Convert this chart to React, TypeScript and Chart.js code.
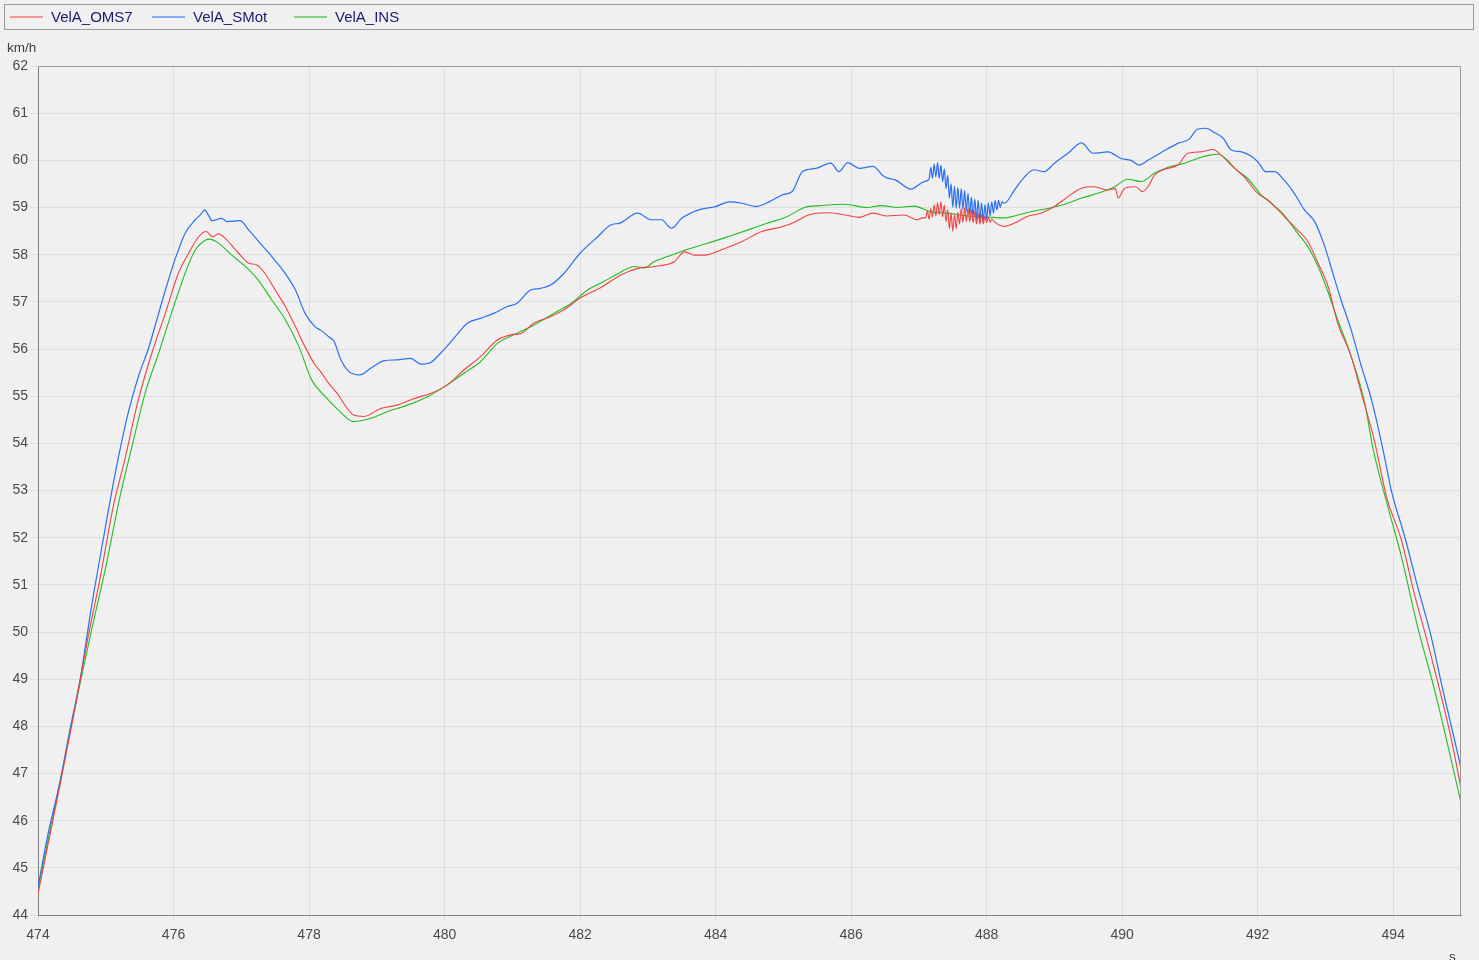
import React, { useEffect, useRef } from "react";
import { Chart, registerables } from "chart.js";

Chart.register(...registerables);

const seriesNames = ["VelA_OMS7", "VelA_SMot", "VelA_INS"];
const seriesColors = ["rgb(240,66,66)", "rgb(42,112,240)", "rgb(34,190,34)"];
const legendColors = ["rgb(244,150,150)", "rgb(130,170,245)", "rgb(130,210,130)"];

const xTicks = [474, 476, 478, 480, 482, 484, 486, 488, 490, 492, 494];
const yTicks = [44, 45, 46, 47, 48, 49, 50, 51, 52, 53, 54, 55, 56, 57, 58, 59, 60, 61, 62];

// VelA_OMS7 (red)
const omsT = [
  474.0, 474.33, 474.55, 474.74, 474.92, 475.11, 475.28, 475.48, 475.68, 475.88,
  476.07, 476.25, 476.37, 476.48, 476.58, 476.66, 476.76, 476.96, 477.11, 477.23,
  477.35, 477.5, 477.65, 477.8, 477.94, 478.09, 478.17, 478.29, 478.43, 478.51,
  478.66, 478.81, 479.06, 479.3, 479.55, 479.8, 480.04, 480.29, 480.53, 480.78,
  480.98, 481.13, 481.32, 481.57, 481.76, 482.0, 482.3, 482.6, 482.85, 483.09,
  483.39, 483.54, 483.69, 483.84, 484.08, 484.39, 484.68, 484.98, 485.18, 485.37,
  485.67, 485.92, 486.12, 486.32, 486.52, 486.78, 486.98, 487.05,
  487.1, 487.125, 487.15, 487.175, 487.2, 487.225, 487.25, 487.275, 487.3, 487.325,
  487.35, 487.375, 487.4, 487.425, 487.45, 487.475, 487.5, 487.525, 487.55, 487.575,
  487.6, 487.625, 487.65, 487.675, 487.7, 487.725, 487.75, 487.775, 487.8, 487.825,
  487.85, 487.875, 487.9, 487.925, 487.95, 487.975, 488.0, 488.025, 488.05, 488.075,
  488.11, 488.26, 488.41, 488.6, 488.8, 489.0, 489.2, 489.4, 489.59, 489.79,
  489.9, 489.94, 490.04, 490.2, 490.3, 490.38, 490.48, 490.62, 490.82, 490.97,
  491.16, 491.34, 491.46, 491.63, 491.8, 492.0, 492.15, 492.3, 492.44, 492.59,
  492.74, 492.89, 493.04, 493.18, 493.38, 493.53, 493.72, 493.9, 494.12, 494.31,
  494.51, 494.71, 494.86, 495.0,
];
const omsV = [
  44.45, 46.79, 48.42, 49.9, 51.17, 52.66, 53.65, 54.92, 55.91, 56.76,
  57.6, 58.1, 58.38, 58.49, 58.38, 58.44, 58.35, 58.03, 57.82, 57.78,
  57.6, 57.25, 56.9, 56.47, 56.05, 55.66, 55.52, 55.27, 55.03, 54.85,
  54.6, 54.57, 54.74, 54.81, 54.95, 55.06, 55.24, 55.56, 55.84, 56.19,
  56.3, 56.33, 56.55, 56.69, 56.83, 57.08, 57.3, 57.57, 57.71, 57.75,
  57.85, 58.06, 57.99, 57.99, 58.1, 58.28, 58.49, 58.59, 58.7, 58.84,
  58.89, 58.84, 58.79, 58.88, 58.82, 58.84, 58.74, 58.78,
  58.78, 58.92, 58.75, 58.98, 58.8, 59.05, 58.82, 59.1, 58.85, 59.12,
  58.8, 59.05, 58.7, 58.95, 58.55, 58.88, 58.5, 58.85, 58.55, 58.9,
  58.65, 58.98, 58.68, 59.0, 58.7, 58.98, 58.7, 58.95, 58.68, 58.92,
  58.65, 58.88, 58.65, 58.85, 58.65, 58.82, 58.68, 58.8, 58.68, 58.76,
  58.7, 58.6, 58.67, 58.81, 58.88, 59.02, 59.23, 59.41, 59.44, 59.37,
  59.4, 59.2, 59.41, 59.44, 59.34, 59.44, 59.69, 59.81, 59.9, 60.15,
  60.18, 60.23, 60.11, 59.87, 59.65, 59.3, 59.16, 58.95, 58.74, 58.52,
  58.28, 57.82, 57.32, 56.55, 55.84, 55.06, 54.07, 52.87, 51.95, 50.82,
  49.76, 48.63, 47.71, 46.69,
];

// VelA_SMot (blue)
const smotT = [
  474.0, 474.15, 474.33, 474.47, 474.62, 474.79, 474.97, 475.14, 475.24, 475.33,
  475.48, 475.63, 475.75, 475.88, 476.02, 476.17, 476.32, 476.4, 476.46, 476.51,
  476.57, 476.71, 476.79, 476.98, 477.11, 477.28, 477.45, 477.65, 477.8, 477.94,
  478.09, 478.17, 478.29, 478.37, 478.47, 478.59, 478.75, 478.91, 479.1, 479.3,
  479.5, 479.65, 479.79, 479.94, 480.14, 480.34, 480.53, 480.73, 480.93, 481.07,
  481.27, 481.4, 481.57, 481.76, 482.0, 482.26, 482.45, 482.59, 482.85, 483.05,
  483.2, 483.35, 483.5, 483.75, 484.0, 484.2, 484.39, 484.59, 484.79, 484.99,
  485.13, 485.28, 485.48, 485.7, 485.82, 485.95, 486.12, 486.32, 486.49, 486.66,
  486.88, 487.08,
  487.15, 487.175, 487.2, 487.225, 487.25, 487.275, 487.3, 487.325, 487.35, 487.375,
  487.4, 487.425, 487.45, 487.475, 487.5, 487.525, 487.55, 487.575, 487.6, 487.625,
  487.65, 487.675, 487.7, 487.725, 487.75, 487.775, 487.8, 487.825, 487.85, 487.875,
  487.9, 487.925, 487.95, 487.975, 488.0, 488.025, 488.05, 488.075, 488.1, 488.125,
  488.15, 488.175, 488.2, 488.225,
  488.26, 488.41, 488.56, 488.7, 488.85, 489.0, 489.2, 489.4, 489.57, 489.79,
  489.98, 490.13, 490.25, 490.38, 490.57, 490.82, 490.99, 491.11, 491.24, 491.36,
  491.49, 491.61, 491.76, 491.9, 492.0, 492.12, 492.25, 492.39, 492.54, 492.69,
  492.84, 492.99, 493.11, 493.23, 493.38, 493.53, 493.68, 493.87, 493.97, 494.17,
  494.36, 494.56, 494.71, 494.86, 495.0,
];
const smotV = [
  44.6, 45.73, 46.86, 47.92, 48.98, 50.54, 52.02, 53.37, 54.07, 54.64,
  55.41, 56.01, 56.6, 57.25, 57.89, 58.45, 58.74, 58.85, 58.95, 58.85,
  58.72, 58.77, 58.7, 58.72, 58.52, 58.24, 57.96, 57.6, 57.25, 56.76,
  56.47, 56.4, 56.26, 56.16, 55.77, 55.52, 55.45, 55.59, 55.75, 55.77,
  55.8, 55.68, 55.71, 55.91, 56.23, 56.55, 56.65, 56.76, 56.9, 56.97,
  57.25, 57.28, 57.36, 57.6, 58.03, 58.38, 58.63, 58.67, 58.88, 58.74,
  58.74, 58.56, 58.77, 58.95, 59.02, 59.12, 59.09, 59.02, 59.12, 59.27,
  59.34, 59.76, 59.83, 59.94, 59.76, 59.95, 59.83, 59.87, 59.65, 59.58,
  59.39, 59.55,
  59.6, 59.85, 59.62, 59.92, 59.65, 59.95, 59.62, 59.9, 59.55, 59.82,
  59.4, 59.68, 59.2, 59.5, 59.0, 59.45, 58.98, 59.42, 58.98, 59.4,
  58.96, 59.36, 58.92, 59.3, 58.85, 59.22, 58.8, 59.18, 58.76, 59.15,
  58.72, 59.1, 58.72, 59.06, 58.75, 59.1, 58.82, 59.12, 58.88, 59.15,
  58.95, 59.15, 59.0, 59.12,
  59.09, 59.37, 59.65, 59.8, 59.76, 59.94, 60.15, 60.37, 60.15, 60.18,
  60.04, 60.0, 59.9, 60.0, 60.16, 60.36, 60.45, 60.66, 60.68, 60.59,
  60.47, 60.22, 60.18, 60.09, 59.97, 59.76, 59.76, 59.58, 59.3, 58.95,
  58.7, 58.17, 57.6, 57.04, 56.4, 55.63, 54.92, 53.72, 53.01, 52.02,
  50.96, 49.9, 48.91, 47.99, 47.11,
];

// VelA_INS (green)
const insT = [
  474.0, 474.33, 474.6, 474.79, 474.99, 475.21, 475.41, 475.58, 475.78, 475.97,
  476.17, 476.32, 476.44, 476.53, 476.66, 476.86, 477.06, 477.25, 477.45, 477.65,
  477.85, 478.04, 478.24, 478.43, 478.66, 478.91, 479.15, 479.45, 479.75, 480.04,
  480.29, 480.53, 480.78, 481.02, 481.32, 481.62, 481.87, 482.11, 482.35, 482.55,
  482.8, 482.95, 483.09, 483.29, 483.58, 483.88, 484.18, 484.47, 484.77, 485.06,
  485.31, 485.55, 485.9, 486.24, 486.44, 486.69, 486.93, 487.17, 487.42, 487.72,
  488.02, 488.26, 488.41, 488.65, 488.9, 489.15, 489.4, 489.64, 489.89, 490.08,
  490.28, 490.48, 490.67, 490.92, 491.11, 491.29, 491.41, 491.56, 491.66, 491.85,
  492.05, 492.2, 492.39, 492.59, 492.74, 492.89, 493.01, 493.18, 493.38, 493.58,
  493.7, 493.92, 494.12, 494.36, 494.61, 494.81, 495.0,
];
const insV = [
  44.55, 46.86, 48.77, 50.04, 51.31, 52.87, 54.07, 55.06, 55.91, 56.76,
  57.6, 58.1, 58.28, 58.33, 58.25, 57.99, 57.75, 57.46, 57.04, 56.62,
  56.05, 55.34, 54.99, 54.71, 54.46, 54.53, 54.67, 54.81, 54.99, 55.24,
  55.49, 55.73, 56.12, 56.3, 56.51, 56.76, 56.97, 57.25, 57.43, 57.59,
  57.75, 57.72, 57.85, 57.96, 58.11, 58.24, 58.38, 58.52, 58.67, 58.81,
  59.0, 59.04, 59.07, 59.0, 59.04, 59.0, 59.03, 58.91, 58.88, 58.82,
  58.8, 58.78, 58.82, 58.91, 58.98, 59.07, 59.2, 59.3, 59.44, 59.6,
  59.55, 59.73, 59.85, 59.94, 60.04, 60.11, 60.13, 60.0, 59.83, 59.62,
  59.27, 59.09, 58.84, 58.45, 58.17, 57.75, 57.32, 56.62, 55.84, 54.85,
  53.9, 52.66, 51.6, 50.11, 48.77, 47.57, 46.37,
];

const toPoints = (ts: number[], vs: number[]) => ts.map((t, i) => ({ x: t, y: vs[i] }));

const FONT = "'Liberation Sans', Arial, sans-serif";

const framePlugin = {
  id: "frame",
  afterDatasetsDraw(chart: any) {
    const { ctx, chartArea } = chart;
    ctx.save();
    ctx.strokeStyle = "#9a9a9a";
    ctx.lineWidth = 1;
    ctx.beginPath();
    ctx.moveTo(chartArea.left, chartArea.top + 0.5);
    ctx.lineTo(chartArea.right - 0.5, chartArea.top + 0.5);
    ctx.lineTo(chartArea.right - 0.5, chartArea.bottom);
    ctx.stroke();
    ctx.restore();
  },
};

export default function App() {
  const canvasRef = useRef<HTMLCanvasElement | null>(null);

  useEffect(() => {
    document.body.style.margin = "0";
    document.body.style.background = "#f0f0f0";
    document.body.style.overflow = "hidden";
    const canvas = canvasRef.current;
    if (!canvas) return;
    const data = [toPoints(omsT, omsV), toPoints(smotT, smotV), toPoints(insT, insV)];
    const chart = new Chart(canvas, {
      type: "line",
      data: {
        datasets: seriesNames.map((name, i) => ({
          label: name,
          data: data[i],
          borderColor: seriesColors[i],
          backgroundColor: seriesColors[i],
          borderWidth: i === 1 ? 1.2 : 1.1,
          pointRadius: 0,
          cubicInterpolationMode: "monotone",
          fill: false,
        })),
      },
      options: {
        animation: false,
        responsive: false,
        devicePixelRatio: 1,
        parsing: false as any,
        normalized: true,
        layout: { padding: { top: 66, right: 18, left: 0, bottom: 0 } },
        plugins: {
          legend: { display: false },
          tooltip: { enabled: false },
        },
        events: [],
        scales: {
          x: {
            type: "linear",
            min: 474,
            max: 495,
            afterFit: (s: any) => { s.height = 45; },
            afterBuildTicks: (s: any) => { s.ticks = xTicks.map((v) => ({ value: v })); },
            grid: { color: "#dedede", lineWidth: 1, tickLength: 7, drawTicks: true },
            border: { display: true, color: "#808080", width: 1 },
            ticks: {
              color: "#4a4a4a",
              font: { family: FONT, size: 14 },
              padding: 5,
              maxRotation: 0,
              autoSkip: false,
              callback: (v: any) => String(v),
            },
          },
          y: {
            type: "linear",
            min: 44,
            max: 62,
            afterFit: (s: any) => { s.width = 38; },
            afterBuildTicks: (s: any) => { s.ticks = yTicks.map((v) => ({ value: v })); },
            grid: { color: "#dedede", lineWidth: 1, tickLength: 7, drawTicks: true },
            border: { display: true, color: "#808080", width: 1 },
            ticks: {
              color: "#4a4a4a",
              font: { family: FONT, size: 14 },
              padding: 3,
              autoSkip: false,
              callback: (v: any) => String(v),
            },
          },
        },
      },
      plugins: [framePlugin],
    } as any);
    return () => chart.destroy();
  }, []);

  return (
    <div style={{ position: "relative", width: 1479, height: 960, background: "#f0f0f0", overflow: "hidden", fontFamily: FONT }}>
      <canvas ref={canvasRef} width={1479} height={960} style={{ position: "absolute", left: 0, top: 0, width: 1479, height: 960 }} />
      <div
        style={{
          position: "absolute",
          left: 4,
          top: 4,
          width: 1468,
          height: 24,
          border: "1px solid #9a9a9a",
          boxSizing: "content-box",
        }}
      >
        {seriesNames.map((name, i) => (
          <div key={name} style={{ position: "absolute", left: 5 + i * 142, top: 0, height: 24, width: 140 }}>
            <div
              style={{
                position: "absolute",
                left: 0,
                top: 11,
                width: 33,
                height: 2,
                backgroundColor: legendColors[i],
              }}
            />
            <div style={{ position: "absolute", left: 41, top: 3, fontSize: 15, lineHeight: "17px", color: "#1b1b6e", whiteSpace: "nowrap" }}>
              {name}
            </div>
          </div>
        ))}
      </div>
      <div style={{ position: "absolute", left: 7, top: 40, fontSize: 13.5, color: "#404040" }}>km/h</div>
      <div style={{ position: "absolute", left: 1449, top: 949, fontSize: 13.5, color: "#404040" }}>s</div>
    </div>
  );
}
